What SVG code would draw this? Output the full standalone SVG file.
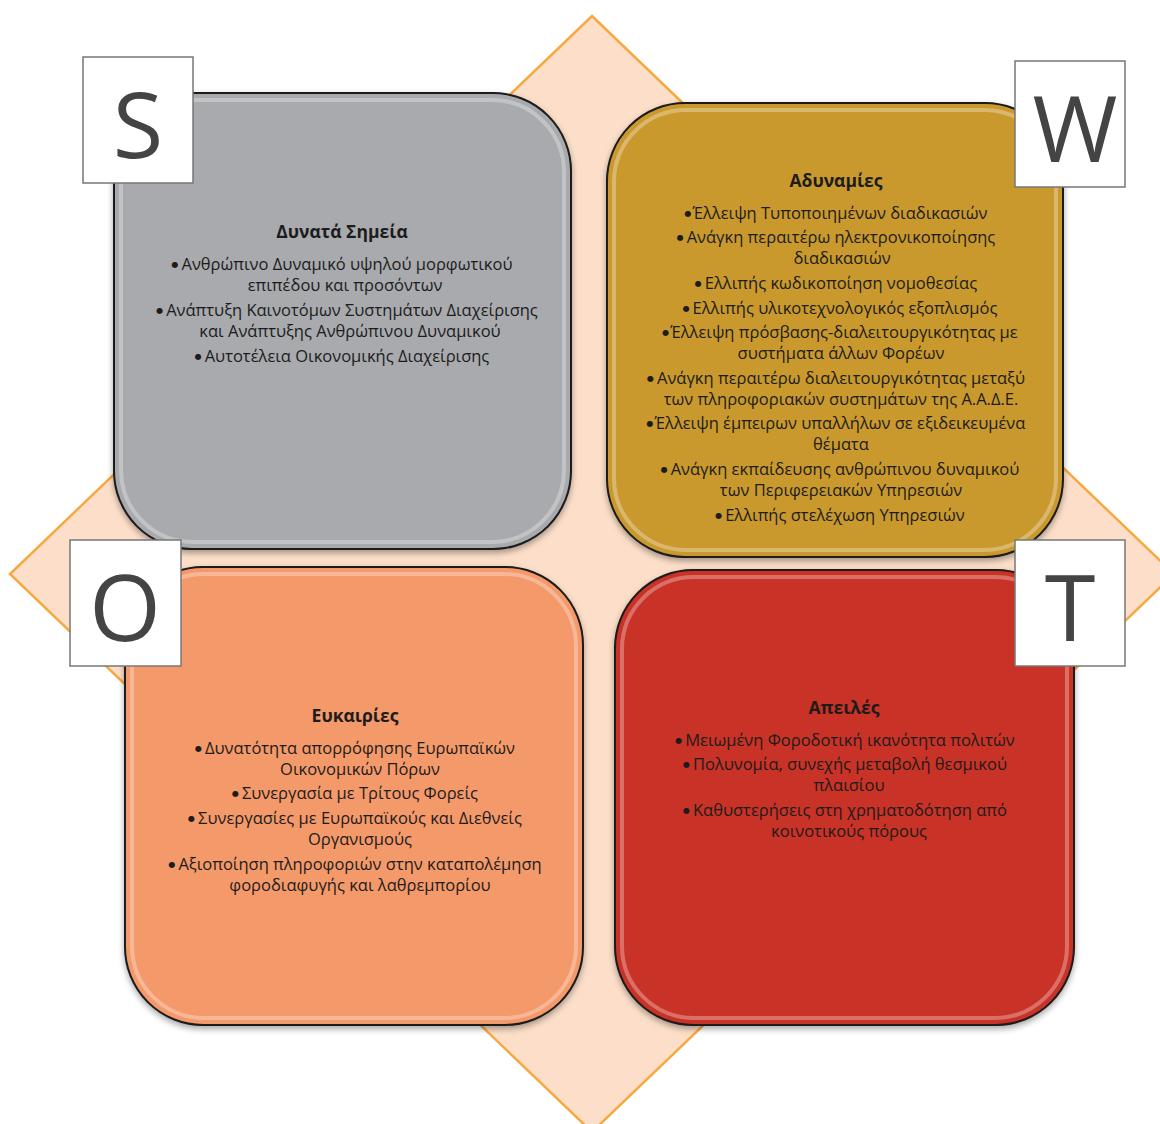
<svg xmlns="http://www.w3.org/2000/svg" width="1160" height="1124" viewBox="0 0 1160 1124">
<defs>
<style>
.box{stroke:#1a1a1a;stroke-width:2}
.gloss{fill:none;stroke:#ffffff;stroke-opacity:0.3;stroke-width:4}
.t{font-family:"Open Sans","Noto Sans","DejaVu Sans",sans-serif;font-size:16.5px;fill:#1c1c1c;text-anchor:middle}
.h{font-weight:bold;font-size:17.5px}
.b{font-family:"DejaVu Sans",sans-serif;font-size:8px}
.lb{fill:#ffffff;stroke:#777;stroke-width:1.5}
.L{font-family:"Open Sans","Liberation Sans",sans-serif;font-size:92px;fill:#444;text-anchor:middle}
</style>
<filter id="sh" x="-10%" y="-10%" width="120%" height="120%"><feDropShadow dx="0" dy="3" stdDeviation="3" flood-color="#000" flood-opacity="0.35"/></filter>
</defs>
<g id="diamond"><polygon points="592,16 1174,574 592,1132 10,574" fill="#FDDFC9" stroke="#F7A941" stroke-width="2.5"/></g>

<g id="S">
<rect class="box" x="114" y="93" width="457" height="456" rx="78" fill="#A8AAAD" filter="url(#sh)"/>
<rect class="gloss" x="121" y="100" width="443" height="442" rx="72"/>
<text class="t h" x="342" y="238">Δυνατά Σημεία</text>
<text class="t" x="342" y="270"><tspan class="b" dy="-3">●</tspan><tspan dx="3" dy="3">Ανθρώπινο Δυναμικό υψηλού μορφωτικού</tspan></text>
<text class="t" x="345" y="291">επιπέδου και προσόντων</text>
<text class="t" x="347" y="316"><tspan class="b" dy="-3">●</tspan><tspan dx="3" dy="3">Ανάπτυξη Καινοτόμων Συστημάτων Διαχείρισης</tspan></text>
<text class="t" x="350" y="337">και Ανάπτυξης Ανθρώπινου Δυναμικού</text>
<text class="t" x="342" y="362"><tspan class="b" dy="-3">●</tspan><tspan dx="3" dy="3">Αυτοτέλεια Οικονομικής Διαχείρισης</tspan></text>
</g>

<g id="W">
<rect class="box" x="607" y="103" width="456" height="454" rx="78" fill="#C9992E" filter="url(#sh)"/>
<rect class="gloss" x="614" y="110" width="442" height="440" rx="72"/>
<text class="t h" x="836" y="187">Αδυναμίες</text>
<text class="t" x="836" y="219"><tspan class="b" dy="-3">●</tspan><tspan dx="1" dy="3">Έλλειψη Τυποποιημένων διαδικασιών</tspan></text>
<text class="t" x="836" y="243"><tspan class="b" dy="-3">●</tspan><tspan dx="3" dy="3">Ανάγκη περαιτέρω ηλεκτρονικοποίησης</tspan></text>
<text class="t" x="842" y="264">διαδικασιών</text>
<text class="t" x="836" y="289"><tspan class="b" dy="-3">●</tspan><tspan dx="3" dy="3">Ελλιπής κωδικοποίηση νομοθεσίας</tspan></text>
<text class="t" x="840" y="314"><tspan class="b" dy="-3">●</tspan><tspan dx="3" dy="3">Ελλιπής υλικοτεχνολογικός εξοπλισμός</tspan></text>
<text class="t" x="840" y="338"><tspan class="b" dy="-3">●</tspan><tspan dx="1" dy="3">Έλλειψη πρόσβασης-διαλειτουργικότητας με</tspan></text>
<text class="t" x="841" y="359">συστήματα άλλων Φορέων</text>
<text class="t" x="836" y="384"><tspan class="b" dy="-3">●</tspan><tspan dx="3" dy="3">Ανάγκη περαιτέρω διαλειτουργικότητας μεταξύ</tspan></text>
<text class="t" x="841" y="405">των πληροφοριακών συστημάτων της Α.Α.Δ.Ε.</text>
<text class="t" x="836" y="429"><tspan class="b" dy="-3">●</tspan><tspan dx="1" dy="3">Έλλειψη έμπειρων υπαλλήλων σε εξιδεικευμένα</tspan></text>
<text class="t" x="841" y="450">θέματα</text>
<text class="t" x="840" y="475"><tspan class="b" dy="-3">●</tspan><tspan dx="3" dy="3">Ανάγκη εκπαίδευσης ανθρώπινου δυναμικού</tspan></text>
<text class="t" x="841" y="496">των Περιφερειακών Υπηρεσιών</text>
<text class="t" x="840" y="521"><tspan class="b" dy="-3">●</tspan><tspan dx="3" dy="3">Ελλιπής στελέχωση Υπηρεσιών</tspan></text>
</g>

<g id="O">
<rect class="box" x="125" y="567" width="458" height="458" rx="78" fill="#F4996B" filter="url(#sh)"/>
<rect class="gloss" x="132" y="574" width="444" height="444" rx="72"/>
<text class="t h" x="355" y="722">Ευκαιρίες</text>
<text class="t" x="355" y="754"><tspan class="b" dy="-3">●</tspan><tspan dx="3" dy="3">Δυνατότητα απορρόφησης Ευρωπαϊκών</tspan></text>
<text class="t" x="360" y="775">Οικονομικών Πόρων</text>
<text class="t" x="355" y="799"><tspan class="b" dy="-3">●</tspan><tspan dx="3" dy="3">Συνεργασία με Τρίτους Φορείς</tspan></text>
<text class="t" x="355" y="824"><tspan class="b" dy="-3">●</tspan><tspan dx="3" dy="3">Συνεργασίες με Ευρωπαϊκούς και Διεθνείς</tspan></text>
<text class="t" x="360" y="845">Οργανισμούς</text>
<text class="t" x="355" y="870"><tspan class="b" dy="-3">●</tspan><tspan dx="3" dy="3">Αξιοποίηση πληροφοριών στην καταπολέμηση</tspan></text>
<text class="t" x="360" y="891">φοροδιαφυγής και λαθρεμπορίου</text>
</g>

<g id="T">
<rect class="box" x="615" y="570" width="459" height="455" rx="78" fill="#C93127" filter="url(#sh)"/>
<rect class="gloss" x="622" y="577" width="445" height="441" rx="72"/>
<text class="t h" x="844" y="714">Απειλές</text>
<text class="t" x="845" y="746"><tspan class="b" dy="-3">●</tspan><tspan dx="3" dy="3">Μειωμένη Φοροδοτική ικανότητα πολιτών</tspan></text>
<text class="t" x="845" y="770"><tspan class="b" dy="-3">●</tspan><tspan dx="3" dy="3">Πολυνομία, συνεχής μεταβολή θεσμικού</tspan></text>
<text class="t" x="849" y="791">πλαισίου</text>
<text class="t" x="845" y="816"><tspan class="b" dy="-3">●</tspan><tspan dx="3" dy="3">Καθυστερήσεις στη χρηματοδότηση από</tspan></text>
<text class="t" x="849" y="837">κοινοτικούς πόρους</text>
</g>

<g id="labels">
<g id="label-S"><rect class="lb" x="83" y="57" width="110" height="126"/><text class="L" x="138" y="158">S</text></g>
<g id="label-W"><rect class="lb" x="1015" y="61" width="110" height="126"/><text class="L" x="1075" y="162">W</text></g>
<g id="label-O"><rect class="lb" x="70" y="540" width="111" height="126"/><text class="L" x="125" y="641">O</text></g>
<g id="label-T"><rect class="lb" x="1015" y="540" width="110" height="126"/><text class="L" x="1070" y="641">T</text></g>
</g>
<g id="connectors"></g>
</svg>
